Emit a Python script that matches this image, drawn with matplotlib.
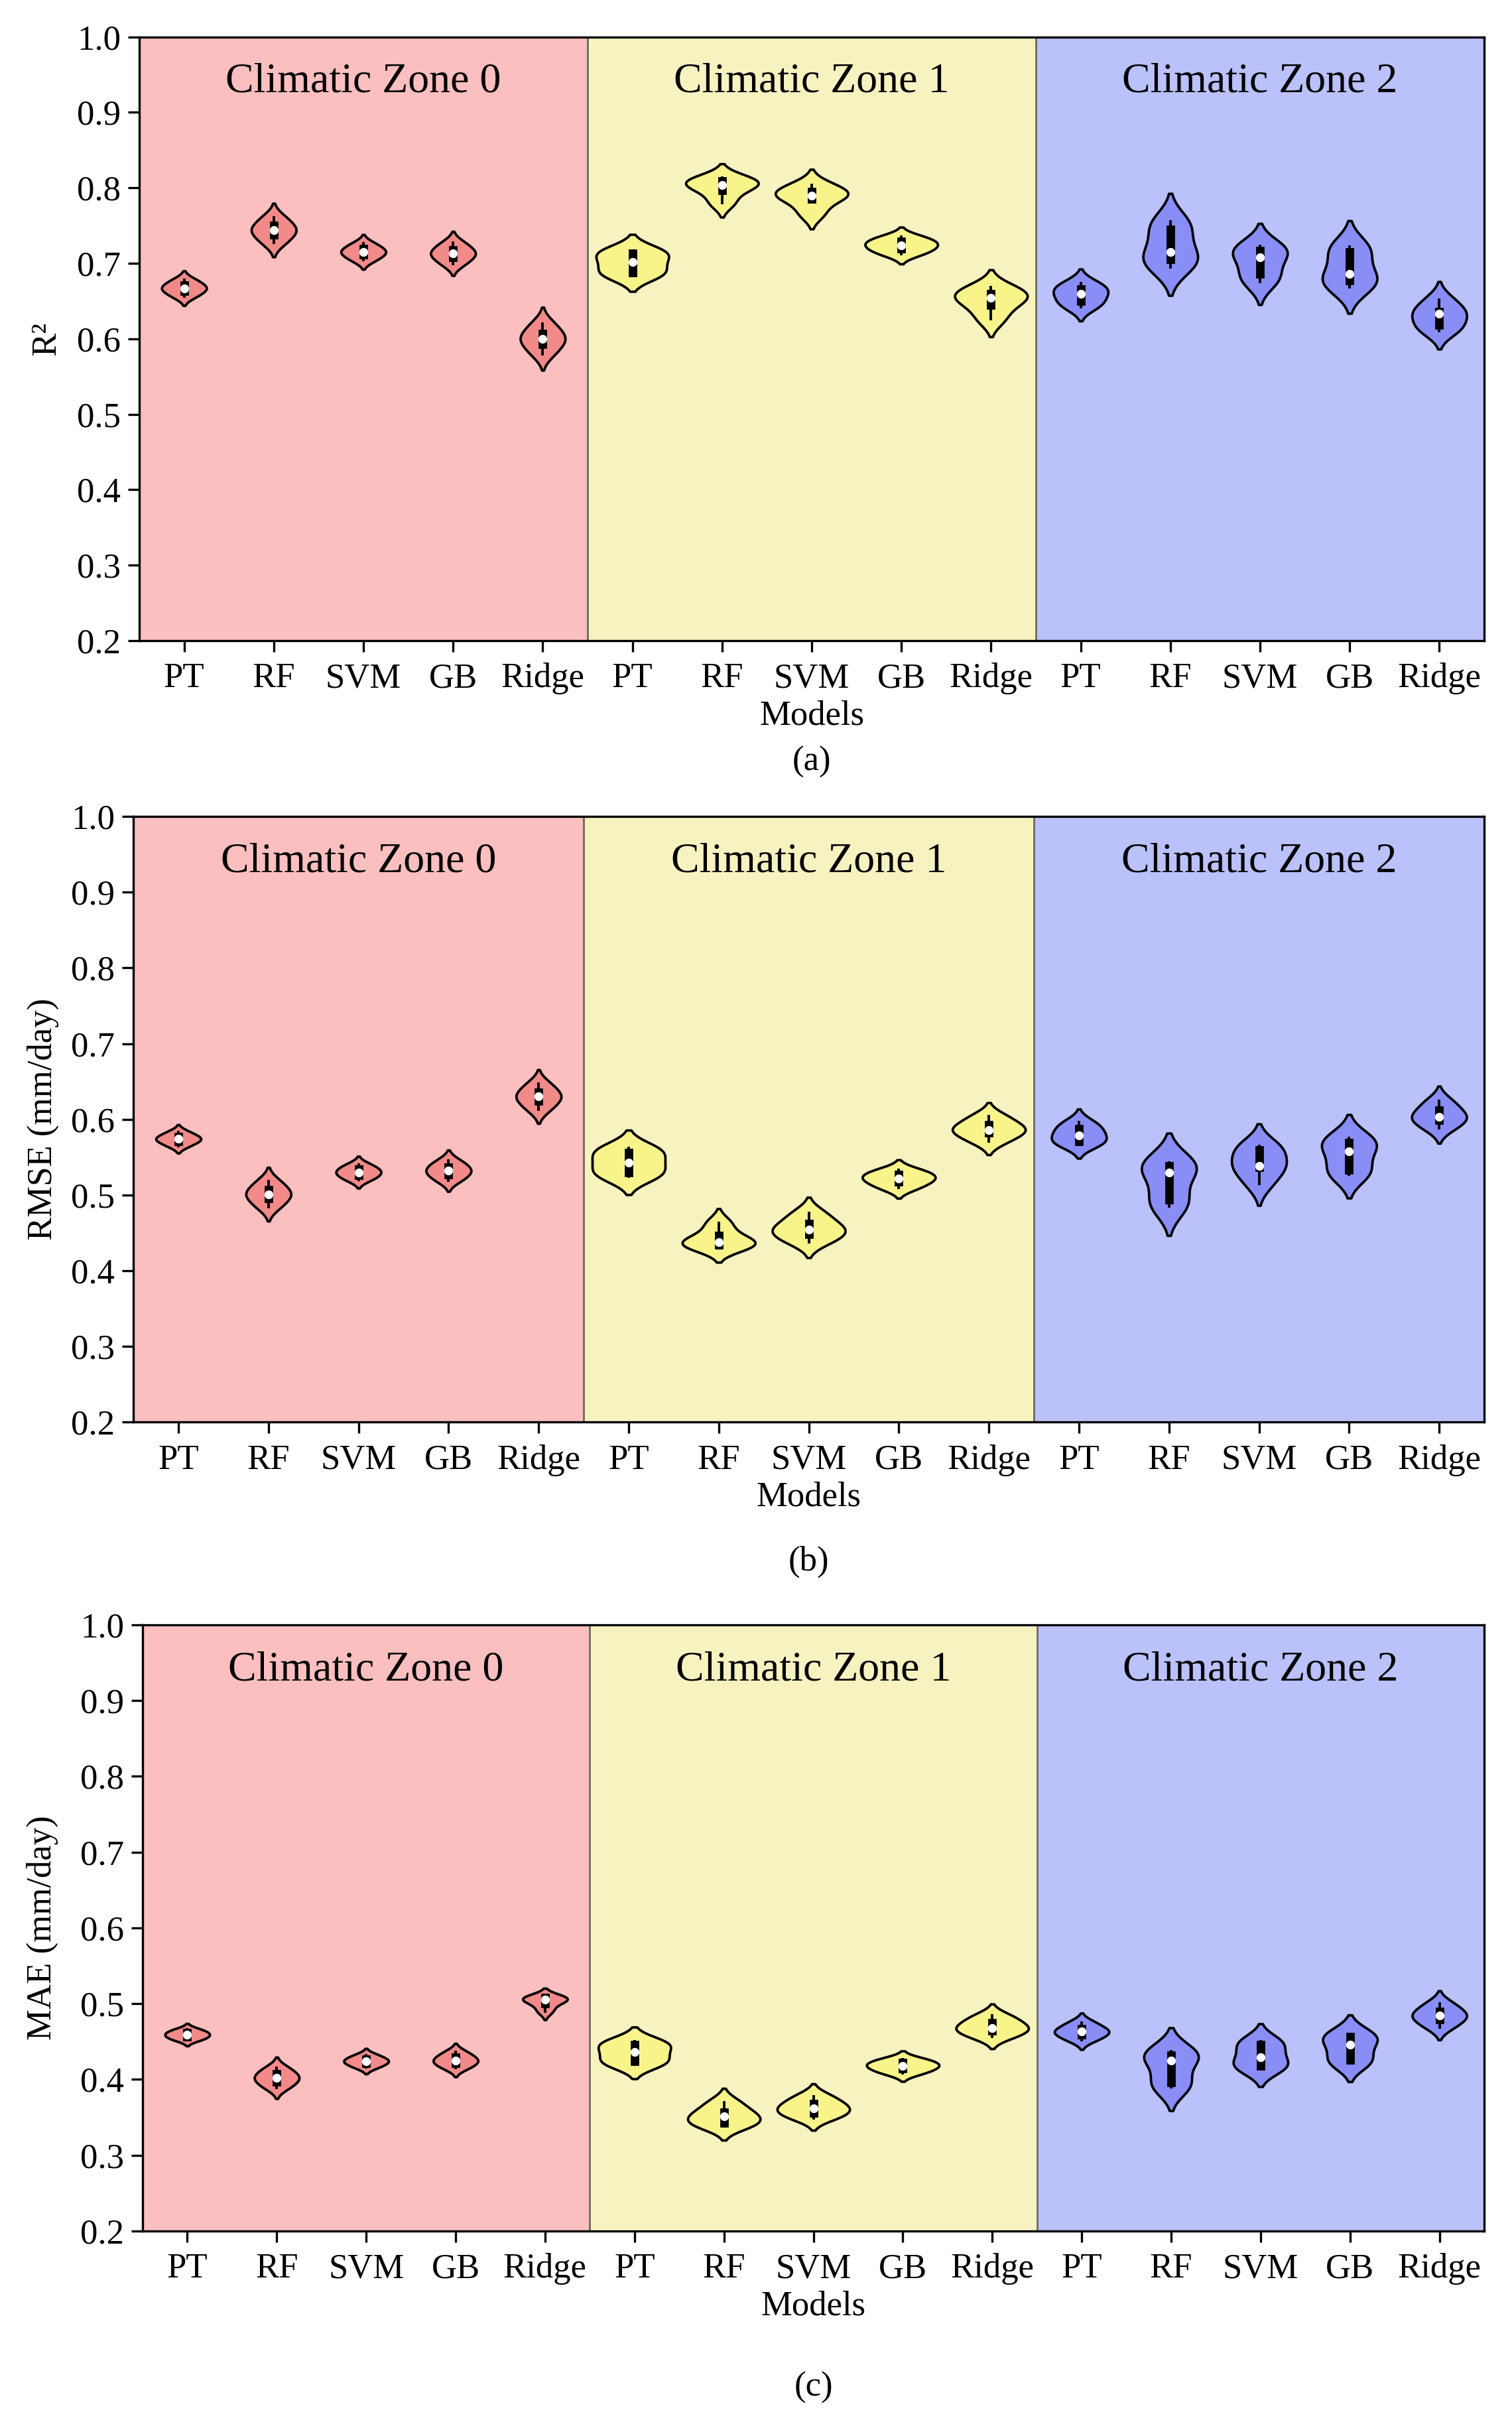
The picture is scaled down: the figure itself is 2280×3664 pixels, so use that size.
import numpy as np
import pandas as pd
import matplotlib
matplotlib.use('Agg')
import matplotlib.pyplot as plt
import seaborn as sns

models = ['PT', 'RF', 'SVM', 'GB', 'Ridge']
zone_names = ['Climatic Zone 0', 'Climatic Zone 1', 'Climatic Zone 2']

# fold scores per model (PT, RF, SVM, GB, Ridge)
r2_zone0 = [
    [0.656, 0.663, 0.667, 0.671, 0.678],
    [0.727, 0.738, 0.744, 0.750, 0.761],
    [0.704, 0.711, 0.715, 0.719, 0.726],
    [0.699, 0.708, 0.713, 0.718, 0.727],
    [0.580, 0.593, 0.600, 0.607, 0.620],
]
r2_zone1 = [
    [0.684, 0.688, 0.702, 0.713, 0.717],
    [0.780, 0.797, 0.804, 0.809, 0.813],
    [0.766, 0.785, 0.790, 0.795, 0.804],
    [0.712, 0.719, 0.724, 0.729, 0.735],
    [0.626, 0.645, 0.654, 0.660, 0.668],
]
r2_zone2 = [
    [0.642, 0.650, 0.660, 0.666, 0.674],
    [0.695, 0.705, 0.715, 0.745, 0.755],
    [0.675, 0.686, 0.708, 0.717, 0.723],
    [0.668, 0.677, 0.686, 0.715, 0.722],
    [0.610, 0.618, 0.633, 0.636, 0.652],
]

rmse_zone0 = [
    [0.565, 0.571, 0.574, 0.577, 0.583],
    [0.484, 0.495, 0.501, 0.507, 0.518],
    [0.520, 0.526, 0.530, 0.534, 0.540],
    [0.519, 0.527, 0.532, 0.537, 0.545],
    [0.613, 0.624, 0.630, 0.636, 0.647],
]
rmse_zone1 = [
    [0.524, 0.530, 0.543, 0.556, 0.562],
    [0.430, 0.434, 0.438, 0.446, 0.463],
    [0.438, 0.448, 0.454, 0.462, 0.476],
    [0.509, 0.517, 0.522, 0.527, 0.533],
    [0.571, 0.582, 0.586, 0.593, 0.604],
]
rmse_zone2 = [
    [0.566, 0.571, 0.579, 0.587, 0.596],
    [0.485, 0.494, 0.530, 0.538, 0.543],
    [0.515, 0.537, 0.538, 0.559, 0.565],
    [0.527, 0.533, 0.558, 0.569, 0.575],
    [0.588, 0.599, 0.603, 0.612, 0.624],
]

mae_zone0 = [
    [0.452, 0.456, 0.459, 0.462, 0.466],
    [0.389, 0.397, 0.402, 0.407, 0.415],
    [0.416, 0.421, 0.424, 0.427, 0.432],
    [0.415, 0.421, 0.425, 0.429, 0.436],
    [0.490, 0.500, 0.505, 0.508, 0.509],
]
mae_zone1 = [
    [0.420, 0.424, 0.436, 0.446, 0.450],
    [0.338, 0.343, 0.351, 0.357, 0.370],
    [0.349, 0.356, 0.362, 0.368, 0.378],
    [0.408, 0.414, 0.418, 0.422, 0.427],
    [0.456, 0.464, 0.468, 0.475, 0.484],
]
mae_zone2 = [
    [0.452, 0.459, 0.463, 0.467, 0.475],
    [0.390, 0.396, 0.425, 0.432, 0.437],
    [0.414, 0.418, 0.429, 0.446, 0.450],
    [0.422, 0.426, 0.446, 0.456, 0.460],
    [0.469, 0.479, 0.484, 0.490, 0.500],
]

y_ticks = [0.2, 0.3, 0.4, 0.5, 0.6, 0.7, 0.8, 0.9, 1.0]

# colours / layout
zone_bg = ['#fbbfbf', '#f7f3c1', '#bbc1fb']
zone_fill = ['#f28a8a', '#f9f48a', '#888ef6']
zone_width = [0.5, 0.81, 0.61]

plt.rcParams['font.family'] = ['Liberation Serif', 'DejaVu Serif']

fig = plt.figure(figsize=(11.4, 18.32), dpi=200)

panels = [
    ('R\u00b2', [r2_zone0, r2_zone1, r2_zone2], [0.0921, 0.7364, 0.8895, 0.2484], -0.057, '(a)', 0.6864),
    ('RMSE (mm/day)', [rmse_zone0, rmse_zone1, rmse_zone2], [0.0882, 0.4148, 0.8934, 0.2492], -0.055, '(b)', 0.3573),
    ('MAE (mm/day)', [mae_zone0, mae_zone1, mae_zone2], [0.0943, 0.0819, 0.8873, 0.2495], -0.063, '(c)', 0.0175),
]

order = [m + '_' + str(z) for z in range(3) for m in models]

for ylabel, zone_data, rect, ylab_x, tag, tag_y in panels:
    ax = fig.add_axes(rect)

    for z in range(3):
        ax.axvspan(z * 5 - 0.5, z * 5 + 4.5, color=zone_bg[z], zorder=0, lw=0)
    for xb in [4.5, 9.5]:
        ax.axvline(xb, color='#6b6b5a', lw=1.0, zorder=0.5)

    for z in range(3):
        rows = []
        for m, vals in zip(models, zone_data[z]):
            for v in vals:
                rows.append({'cat': m + '_' + str(z), 'val': v})
        df = pd.DataFrame(rows)
        sns.violinplot(data=df, x='cat', y='val', order=order, ax=ax,
                       color=zone_fill[z], saturation=1, linecolor='black',
                       linewidth=1.35, width=zone_width[z], density_norm='width',
                       inner='box', cut=2,
                       inner_kws=dict(marker='o', box_width=4.6, whis_width=1.4))
        ax.text(z * 5 + 2, 0.94, zone_names[z], ha='center', va='center', fontsize=23)

    ax.set_xlim(-0.5, 14.5)
    ax.set_ylim(0.2, 1.0)
    ax.set_yticks(y_ticks)
    ax.set_yticklabels(['%.1f' % t for t in y_ticks])
    ax.set_xticks(range(15))
    ax.set_xticklabels(models * 3)
    ax.tick_params(axis='both', direction='out', length=6, width=1.2, labelsize=19)
    ax.tick_params(axis='x', pad=6)
    ax.tick_params(axis='y', pad=4)
    for s in ax.spines.values():
        s.set_linewidth(1.2)
        s.set_color('black')
    ax.set_xlabel('Models', fontsize=19, labelpad=3)
    ax.set_ylabel(ylabel, fontsize=19)
    ax.yaxis.set_label_coords(ylab_x, 0.5)
    fig.text(rect[0] + rect[2] / 2, tag_y, tag, ha='center', va='center', fontsize=19)

fig.savefig('out.png', dpi=200)
